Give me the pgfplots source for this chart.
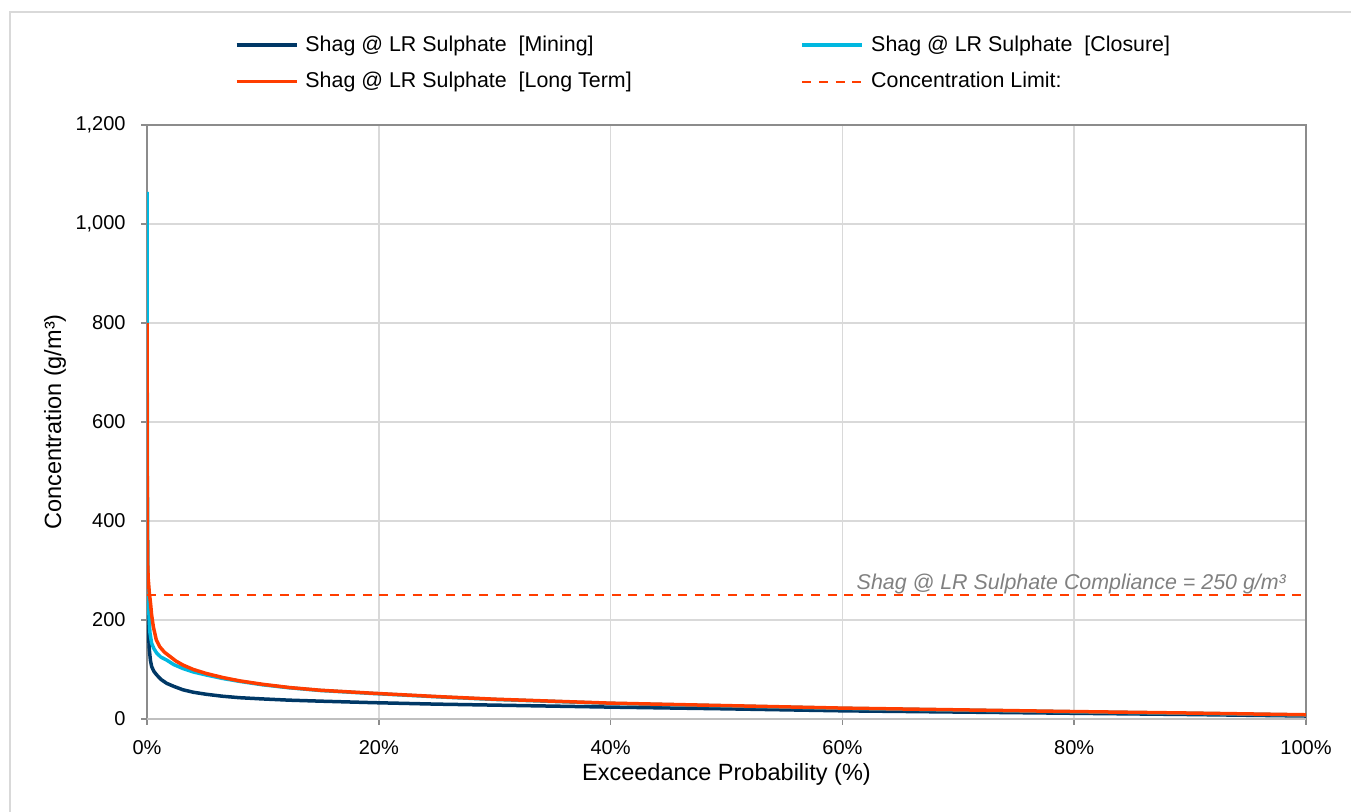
\documentclass[border=0pt]{standalone}
\usepackage{fontspec}
\setmainfont{Liberation Sans}
\usepackage{pgfplots}
\pgfplotsset{compat=1.18}
\definecolor{cnavy}{RGB}{0,56,102}
\definecolor{ccyan}{RGB}{0,184,224}
\definecolor{corange}{RGB}{255,61,0}
\definecolor{annogray}{RGB}{128,128,128}
\definecolor{gridgray}{RGB}{217,217,217}
\definecolor{axgray}{RGB}{140,140,140}
\definecolor{botgray}{RGB}{191,191,191}
\definecolor{framegray}{RGB}{217,217,217}
\begin{document}
\begin{tikzpicture}
\useasboundingbox (0,0) rectangle (675.5pt,406pt);
\draw[color=framegray, line width=1pt] (680pt,400pt) -- (5pt,400pt) -- (5pt,-5pt);
\begin{axis}[
  at={(73.5pt,46.5pt)}, anchor=south west,
  scale only axis, width=579.5pt, height=297pt,
  xmin=0, xmax=100, ymin=0, ymax=1200,
  xtick={0,20,...,100}, xticklabels={0\%,20\%,40\%,60\%,80\%,100\%},
  ytick={0,200,...,1200}, yticklabels={0,200,400,600,800,{1,000},{1,200}},
  xtick pos=left, ytick pos=left,
  tick align=outside, major tick length=3pt,
  tick style={axgray, line width=0.75pt},
  axis line style={axgray, line width=0.75pt},
  grid=major, major grid style={gridgray, line width=0.75pt},
  tick label style={font=\fontsize{10}{12}\selectfont, inner sep=0pt},
  yticklabel style={anchor=east}, yticklabel shift=7.5pt,
  xticklabel style={anchor=north}, xticklabel shift=7.5pt,
  xlabel={Exceedance Probability (\%)},
  ylabel={Concentration (g/m³)},
  label style={font=\fontsize{11.75}{14}\selectfont, inner sep=0pt},
  xlabel style={at={([yshift=-27.75pt]axis description cs:0.5,0)}, anchor=center},
  ylabel style={at={([xshift=-46pt]axis description cs:0,0.5)}, anchor=center, rotate=0},
  legend columns=2,
  legend cell align=left,
  legend image code/.code={\draw[#1] (0pt,0pt) -- (30pt,0pt);},
  legend style={draw=none, fill=none, inner sep=0pt, outer sep=0pt,
    at={(0.0759,1.1499)}, anchor=north west,
    font=\fontsize{10.7}{12.8}\selectfont,
    nodes={inner sep=0pt},
    row sep=9pt,
    /tikz/every odd column/.append style={column sep=3.5pt},
    /tikz/every even column/.append style={column sep=84.5pt}},
  after end axis/.code={\draw[botgray, line width=1pt] (rel axis cs:0,0) -- (rel axis cs:1,0);},
]
\addplot[cnavy, line width=1.75pt, line join=round] coordinates {
(0,350) (0.05,240) (0.1,190) (0.2,140) (0.3,118) (0.4,106) (0.6,96) (0.84,89) (1.2,80) (1.7,72) (2.3,66) (3.1,59) (4,54) (5.1,50) (6.5,46) (8,43) (10,40.5) (12.3,38) (15,36) (19.5,33) (25,30) (30,28) (35,26) (40,24) (50,20.5) (60,16.5) (70,14) (80,11.5) (90,9) (100,6)
};
\addlegendentry{Shag @ LR Sulphate~ [Mining]}
\addplot[ccyan, line width=1.75pt, line join=round] coordinates {
(0,1065) (0.03,500) (0.08,300) (0.15,220) (0.25,175) (0.4,153) (0.6,142) (0.84,133) (1.2,125) (1.7,119) (2.3,110) (3.1,102) (4,95) (5.1,89) (6.5,82) (8,76) (10,69) (12.3,63) (15,57.5) (19.5,51.5) (25.3,44.5) (30,39.5) (35,35.5) (40,31.5) (50,26.5) (60,21.5) (70,18) (80,14.5) (90,11.5) (100,8)
};
\addlegendentry{Shag @ LR Sulphate~ [Closure]}
\addplot[corange, line width=1.75pt, line join=round] coordinates {
(0,800) (0.02,500) (0.05,320) (0.1,285) (0.2,255) (0.3,235) (0.4,210) (0.55,186) (0.8,160) (1.1,146) (1.5,135) (2,126) (2.5,117) (3.1,109) (4,100) (5.1,92) (6.5,84) (8,77) (10,70) (12.3,63.5) (15,58) (19.5,52) (25.3,45) (30,40) (35,36) (40,32) (50,27) (60,22) (70,18.5) (80,15) (90,12) (100,8.5)
};
\addlegendentry{Shag @ LR Sulphate~ [Long Term]}
\addplot[corange, line width=1pt, dash pattern=on 4.5pt off 3.8pt] coordinates {(0,250) (100,250)};
\addlegendentry{Concentration Limit:}
\node[anchor=base east, inner sep=0pt, text=annogray, font=\fontsize{10.7}{12.8}\selectfont\itshape] at (axis cs:98.3,260.6) {Shag @ LR Sulphate Compliance = 250 g/m³};
\end{axis}
\end{tikzpicture}
\end{document}
